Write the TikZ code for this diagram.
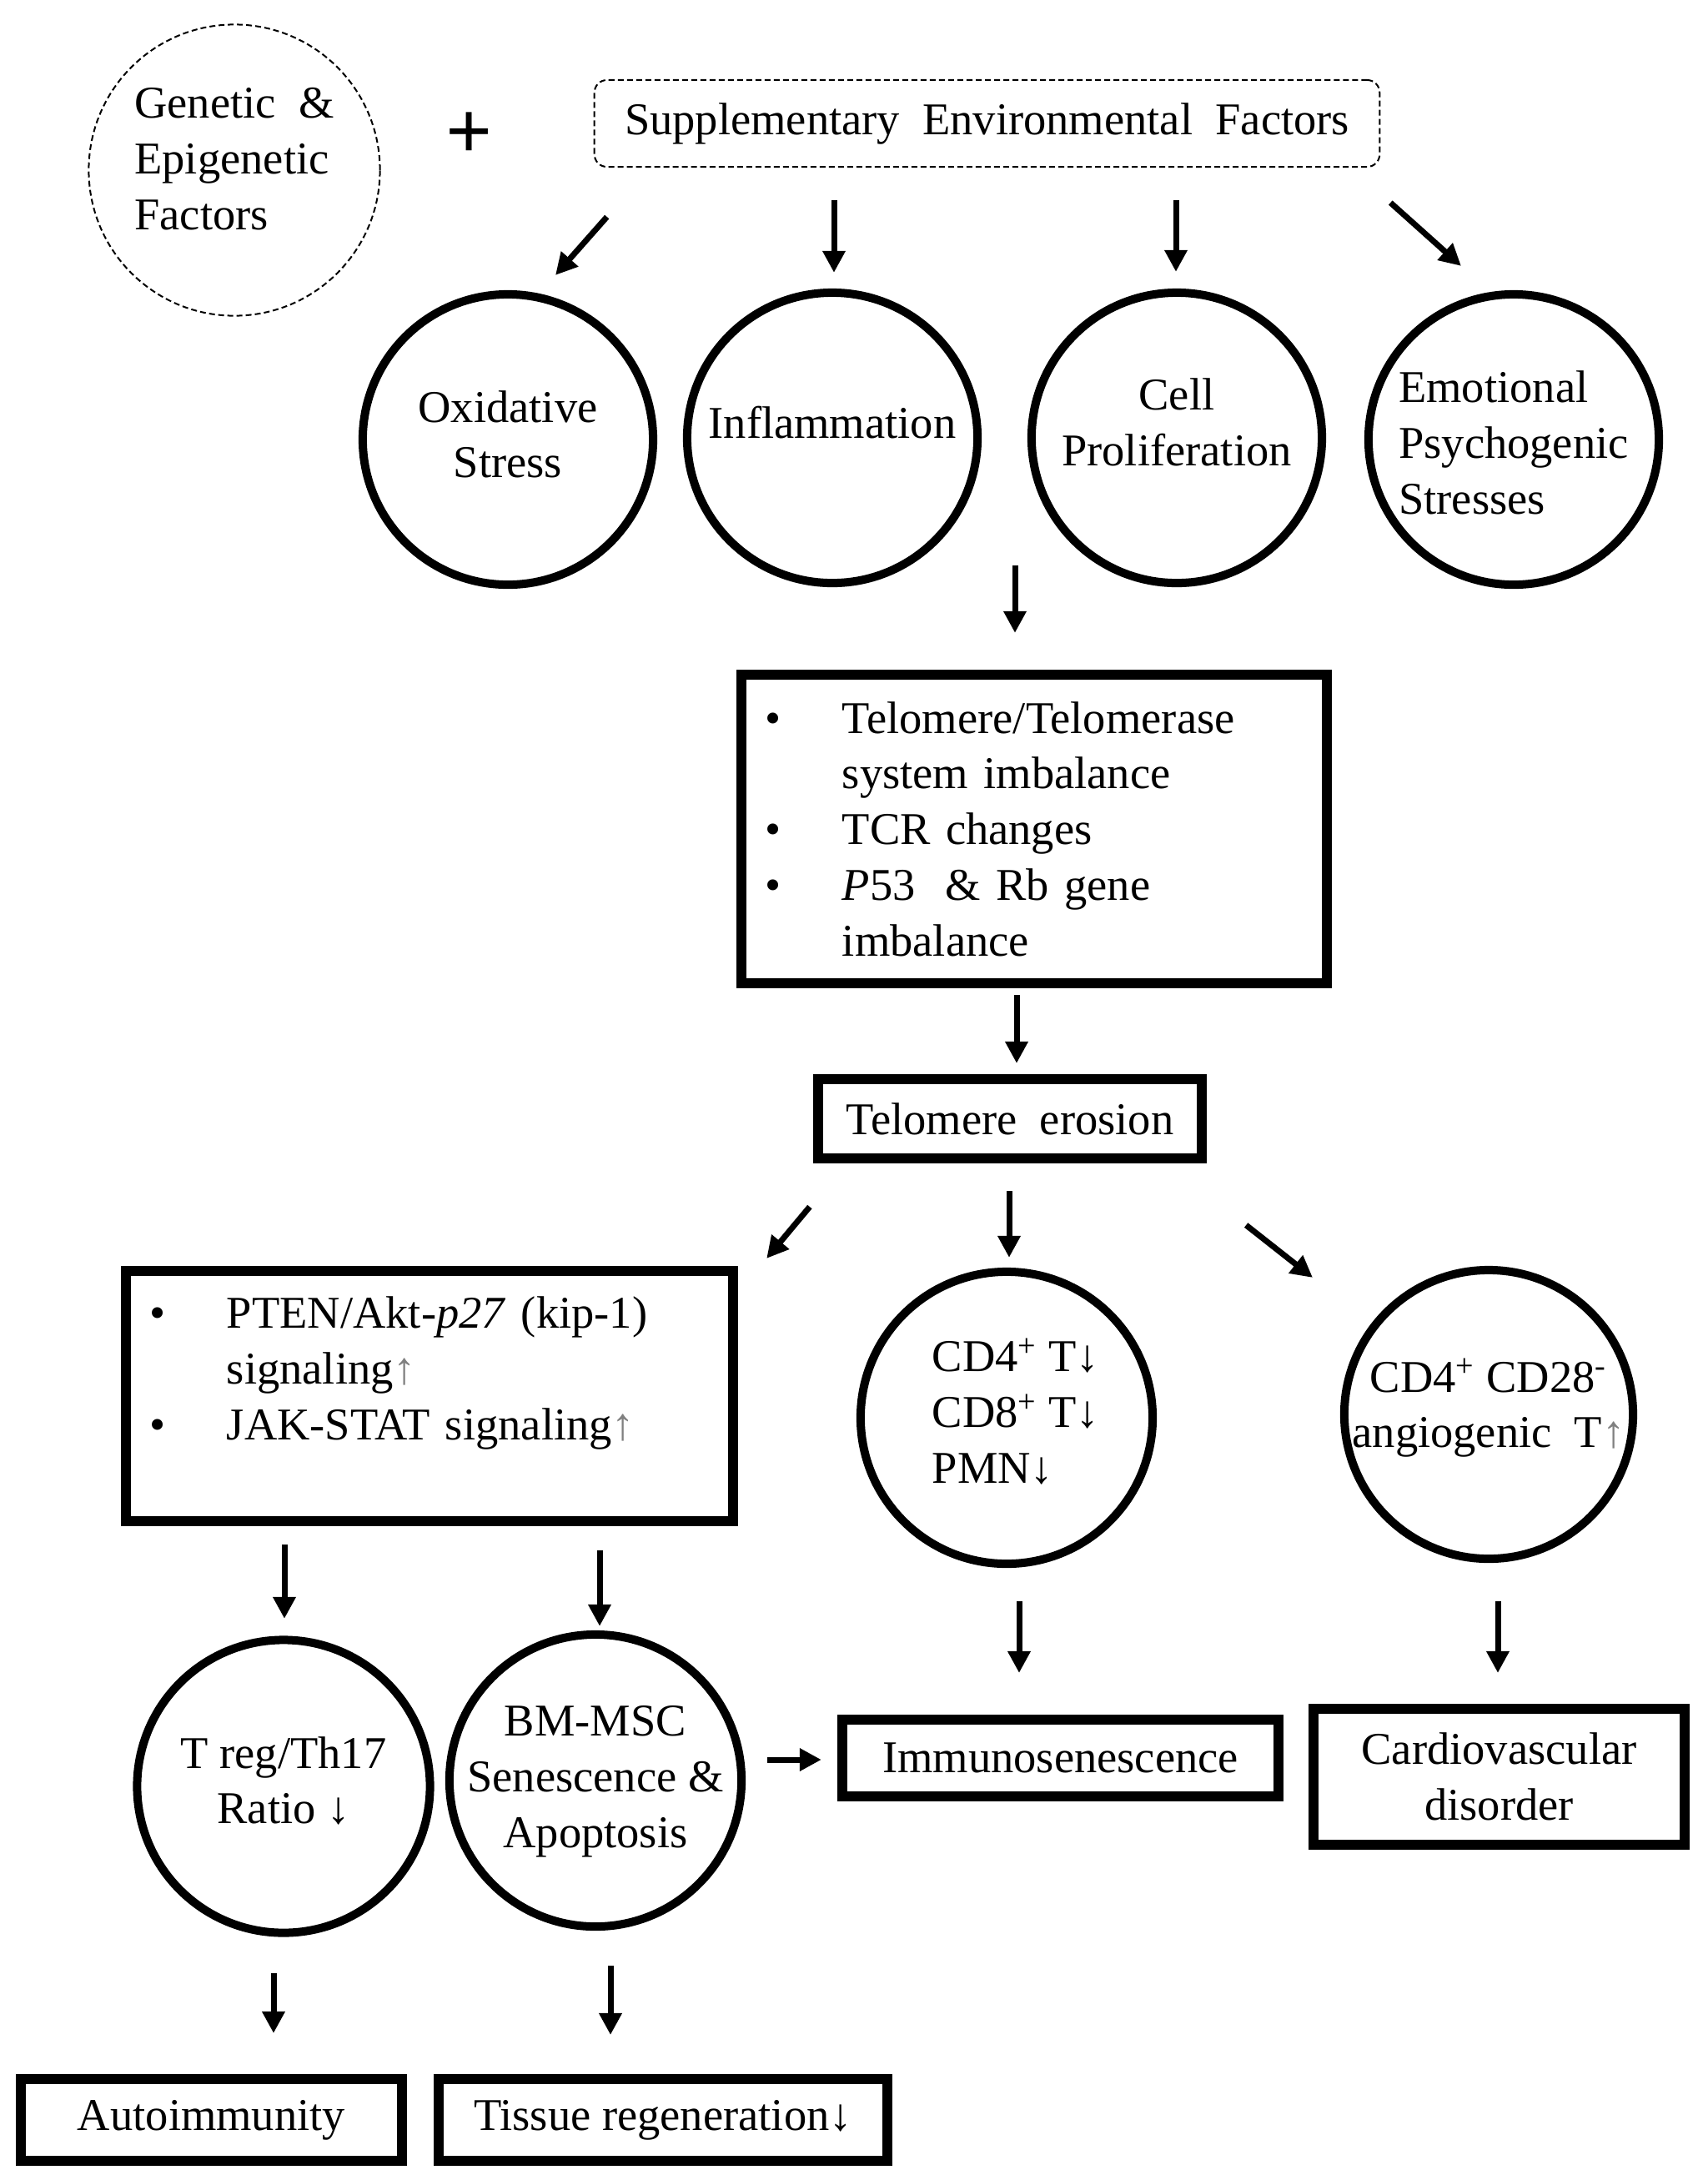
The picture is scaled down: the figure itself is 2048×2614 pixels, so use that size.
\documentclass[tikz,border=0pt]{standalone}
\usepackage{fontspec}
\setmainfont{Liberation Serif}
\usetikzlibrary{arrows.meta}
\newcommand{\uparr}{\textcolor{gray}{↑}}
\newcommand{\dnarr}{↓}
\newcommand{\bul}{\makebox[0.92cm][l]{\textbullet}}
\newcommand{\ind}{\hspace*{0.92cm}}
\newcommand{\ctxt}[3]{\raisebox{#1}[0pt][0pt]{\begin{tabular}[t]{@{}#2@{}}#3\end{tabular}}}
\begin{document}
\begin{tikzpicture}[x=0.01cm,y=-0.01cm,
    font=\fontsize{15.5}{19}\selectfont,
    >={Triangle[length=0.26cm,width=0.26cm]},
    circ/.style={circle,draw,line width=0.1cm,minimum size=3.48cm,inner sep=0pt,outer sep=0pt},
    dcirc/.style={circle,draw,line width=0.02cm,dash pattern=on 0.07cm off 0.04cm,minimum size=3.49cm,inner sep=0pt,outer sep=0pt},
    bbox/.style={rectangle,draw,line width=0.12cm,outer sep=0pt,align=center},
    dbox/.style={rectangle,draw,line width=0.02cm,dash pattern=on 0.07cm off 0.04cm,rounded corners=0.15cm,outer sep=0pt},
    arr/.style={->,line width=0.07cm}]
 \useasboundingbox (0,0) rectangle (2048,2614);

 \node[dcirc] (gen) at (281,204) {\ctxt{0.62cm}{l}{Genetic~ \&\\Epigenetic\\Factors}};
 \node[font=\fontsize{28}{28}\selectfont\bfseries] (plus) at (563,163) {+};
 \node[dbox,minimum width=9.41cm,minimum height=1.04cm] (supp) at (1183.5,148) {Supplementary~ Environmental~ Factors};

 \node[circ] (oxi) at (609,527) {\ctxt{0.21cm}{c}{Oxidative\\Stress}};
 \node[circ] (infl) at (998,525) {\ctxt{0cm}{c}{Inflammation}};
 \node[circ] (cell) at (1411,525) {\ctxt{0.33cm}{c}{Cell\\Proliferation}};
 \node[circ] (emo) at (1815,527) {\ctxt{0.44cm}{l}{Emotional\\Psychogenic\\Stresses}};

 \node[bbox,align=left,text width=6.44cm,inner xsep=0.29cm,minimum width=7.02cm,minimum height=3.70cm] (telo) at (1240,994)
   {\bul Telomere/Telomerase\\ \ind system imbalance\\ \bul TCR changes\\ \bul \textit{P}53~ \& Rb gene\\ \ind imbalance};
 \node[bbox,minimum width=4.60cm,minimum height=0.95cm] (eros) at (1211,1341.5) {Telomere~ erosion};

 \node[bbox,align=left,text width=6.70cm,inner xsep=0.29cm,minimum width=7.28cm,minimum height=3.00cm] (pten) at (515,1674)
   {\bul PTEN/Akt-\textit{p27} (kip-1)\\ \ind signaling\uparr\\ \bul JAK-STAT signaling\uparr\\ \mbox{}};
 \node[circ,minimum size=3.50cm] (cd4) at (1207,1700) {\hspace*{0.22cm}\ctxt{0.55cm}{l}{CD4\textsuperscript{+} T\dnarr\\CD8\textsuperscript{+} T\dnarr\\PMN\dnarr}};
 \node[circ,minimum size=3.46cm] (cd28) at (1785,1696) {\ctxt{0.27cm}{c}{CD4\textsuperscript{+} CD28\textsuperscript{-}\\angiogenic~ T\uparr}};

 \node[circ,minimum size=3.51cm] (treg) at (340,2142) {\ctxt{0.22cm}{c}{T reg/Th17\\Ratio \dnarr}};
 \node[circ,minimum size=3.50cm] (bm) at (714,2135) {\ctxt{0.53cm}{c}{BM-MSC\\Senescence \&\\Apoptosis}};
 \node[bbox,minimum width=5.23cm,minimum height=0.92cm] (immu) at (1271.5,2108) {Immunosenescence};
 \node[bbox,minimum width=4.45cm,minimum height=1.63cm] (card) at (1797.5,2130.5) {Cardiovascular\\disorder};
 \node[bbox,minimum width=4.57cm,minimum height=0.98cm] (auto) at (253.5,2542) {Autoimmunity};
 \node[bbox,minimum width=5.38cm,minimum height=0.98cm] (tiss) at (795,2542) {Tissue regeneration\dnarr};

 \draw[arr] ([shift={(15,60)}]supp.south west) -- ([shift={(57,-23)}]oxi.north);
 \draw[arr] ([shift={(-183.5,40)}]supp.south) -- ([shift={(2,-24)}]infl.north);
 \draw[arr] ([shift={(226.5,40)}]supp.south) -- ([shift={(-1,-25)}]cell.north);
 \draw[arr] ([shift={(13,43)}]supp.south east) -- ([shift={(-63,-34)}]emo.north);
 \draw[arr] ([shift={(-194,-21)}]cell.south) -- ([shift={(-23,-50)}]telo.north);
 \draw[arr] ([shift={(-21,14)}]telo.south) -- ([shift={(8,-19)}]eros.north);
 \draw[arr] ([shift={(-10,58)}]eros.south west) -- ([shift={(40,-15)}]pten.north east);
 \draw[arr] ([shift={(-1,39)}]eros.south) -- ([shift={(3,-17)}]cd4.north);
 \draw[arr] ([shift={(53,80)}]eros.south east) -- ([shift={(-211,9)}]cd28.north);
 \draw[arr] ([shift={(-174,28)}]pten.south) -- ([shift={(1,-25.5)}]treg.north);
 \draw[arr] ([shift={(204,35)}]pten.south) -- ([shift={(5,-10)}]bm.north);
 \draw[arr] ([shift={(15,45)}]cd4.south) -- ([shift={(-49.5,-56)}]immu.north);
 \draw[arr] ([shift={(11,51)}]cd28.south) -- ([shift={(-1.5,-43)}]card.north);
 \draw[arr] ([shift={(31,-25)}]bm.east) -- ([shift={(-25,2)}]immu.west);
 \draw[arr] ([shift={(-12,48.5)}]treg.south) -- ([shift={(74.5,-55)}]auto.north);
 \draw[arr] ([shift={(18,47)}]bm.south) -- ([shift={(-63,-53)}]tiss.north);
\end{tikzpicture}
\end{document}
